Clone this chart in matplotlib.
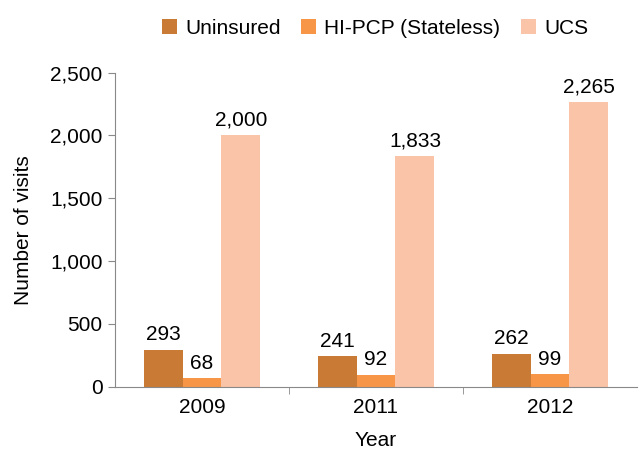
import matplotlib
matplotlib.use("Agg")
import matplotlib.pyplot as plt
import numpy as np

plt.rcParams['font.family'] = ['Liberation Sans', 'DejaVu Sans']

years = ["2009", "2011", "2012"]
series = ["Uninsured", "HI-PCP (Stateless)", "UCS"]
uninsured = [293, 241, 262]
hipcp = [68, 92, 99]
ucs = [2000, 1833, 2265]
colors = ["#C97A35", "#F79646", "#FAC4A8"]

FS = 15
fig = plt.figure(figsize=(6.43, 4.51), dpi=100)
ax = fig.add_axes([115/643, 1-386.7/451, (637-115)/643, (386.7-72.7)/451])

x = np.arange(len(years))
w = 0.224
for i, (name, vals, c) in enumerate(zip(series, [uninsured, hipcp, ucs], colors)):
    pos = x + (i-1)*w
    ax.bar(pos, vals, width=w, color=c, label=name)
    for p, v in zip(pos, vals):
        ax.text(p, v + 45, f"{v:,}", ha="center", va="bottom", fontsize=FS)

ax.set_xlim(-0.5, 2.5)
ax.set_ylim(0, 2500)
ax.set_yticks(range(0, 2501, 500))
ax.set_yticklabels([f"{v:,}" for v in range(0, 2501, 500)], fontsize=FS)
ax.set_xticks(x)
ax.set_xticklabels(years, fontsize=FS)
ax.tick_params(axis='x', length=0, pad=8)
ax.set_xticks([0.5, 1.5], minor=True)
ax.tick_params(axis='x', which='minor', length=5, color='#898989', direction='out')
ax.tick_params(axis='y', length=5, color='#898989', pad=4)
for s in ['top', 'right']:
    ax.spines[s].set_visible(False)
for s in ['left', 'bottom']:
    ax.spines[s].set_color('#898989')
ax.set_ylabel("Number of visits", fontsize=FS, labelpad=12)
ax.set_xlabel("Year", fontsize=FS, labelpad=10)

fig.legend(loc="upper center", bbox_to_anchor=(375/643, 1.0), ncol=3, frameon=False,
           fontsize=FS, handlelength=0.7, handleheight=0.7, handletextpad=0.4, columnspacing=1.0)

fig.savefig("out.png", dpi=100)
